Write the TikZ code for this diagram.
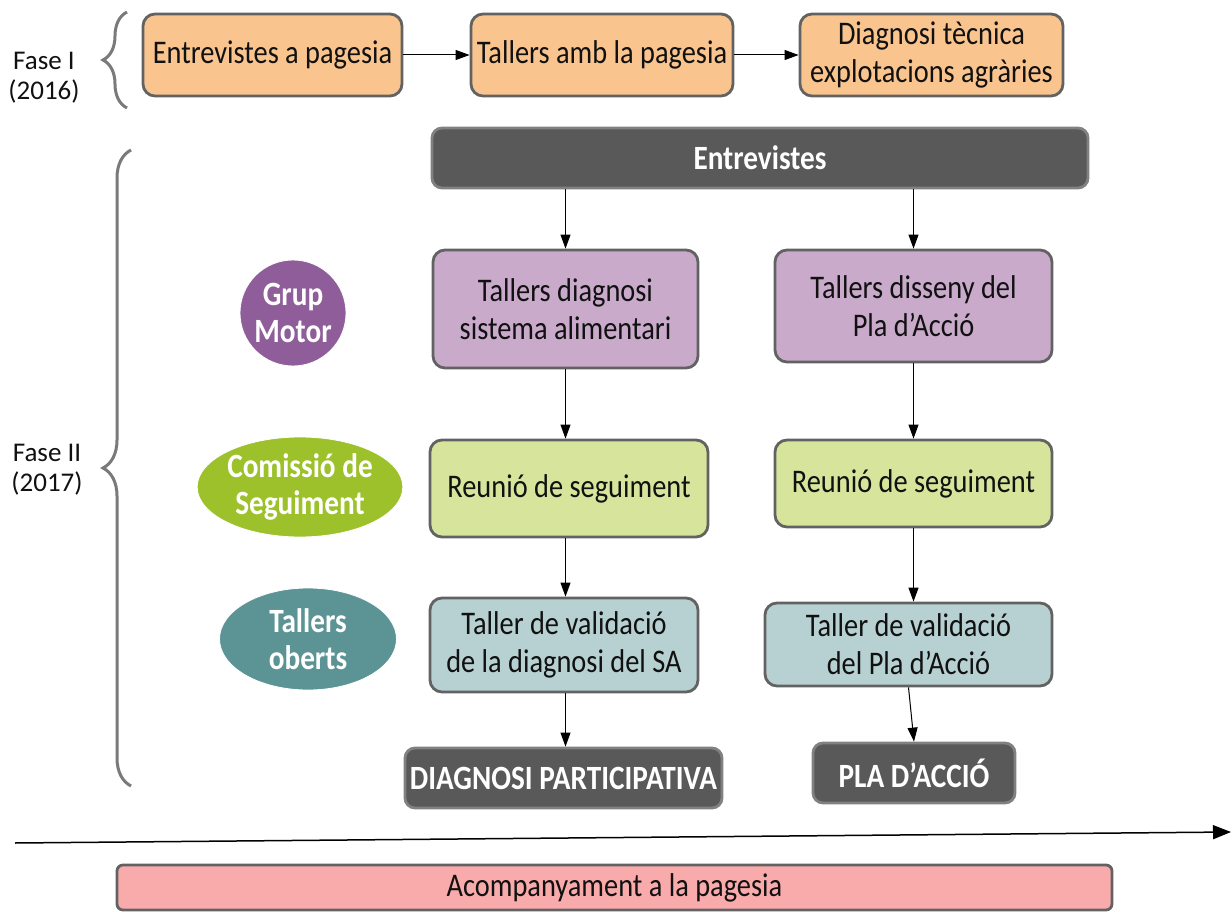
\documentclass[tikz,border=0pt]{standalone}
\usepackage{fontspec}
\setmainfont{Carlito}[FakeStretch=0.86]
\newfontfamily\lblfam{Carlito}
\usetikzlibrary{arrows.meta,decorations.pathreplacing,shapes.geometric}
\definecolor{orangeF}{HTML}{F9C48E}
\definecolor{bord}{HTML}{626262}
\definecolor{darkF}{HTML}{595959}
\definecolor{lilac}{HTML}{C9AACB}
\definecolor{lime}{HTML}{D6E59B}
\definecolor{tealL}{HTML}{B7D1D2}
\definecolor{gmC}{HTML}{8F5E9A}
\definecolor{csC}{HTML}{9DC12A}
\definecolor{toC}{HTML}{5C9496}
\definecolor{pinkF}{HTML}{F9ABAB}
\definecolor{txt}{HTML}{111111}
\definecolor{braceC}{HTML}{7A7A7A}
\newcommand\bxf{\fontsize{33}{38}\selectfont}
\newcommand\lbf{\lblfam\fontsize{27}{30}\selectfont}
\newcommand\bdf{\fontsize{34}{37}\selectfont\bfseries}
\begin{document}
\begin{tikzpicture}[x=1pt,y=-1pt,
  box/.style={draw=bord, line width=2.8pt, rounded corners=12pt, align=center, inner sep=0pt, text=txt, font=\bxf},
  obox/.style={box, fill=orangeF},
  pbox/.style={box, fill=lilac},
  gbox/.style={box, fill=lime},
  tbox/.style={box, fill=tealL},
  dbox/.style={box, fill=darkF, draw=bord!80, text=white, font=\bdf, rounded corners=10pt},
  blob/.style={ellipse, inner sep=0pt, text=white, font=\bdf, align=center, draw=white, line width=0.8pt},
  arr/.style={-{Triangle[length=14pt,width=10pt]}, line width=1pt, black},
  lbl/.style={align=center, font=\lbf, text=txt},
  brc/.style={decorate, decoration={brace, amplitude=24pt}, draw=braceC, line width=3pt}
]
\useasboundingbox (0,0) rectangle (1232,912);

% Fase I
\node[lbl] (f1) at (44,78) {Fase I\\(2016)};
\coordinate (b1a) at (127,108);
\coordinate (b1b) at (127,12);
\draw[brc] (b1a) -- (b1b);

\node[obox, minimum width=259, minimum height=82] (a1) at (272.5,55) {Entrevistes a pagesia};
\node[obox, minimum width=262, minimum height=82] (a2) at (602,55) {Tallers amb la pagesia};
\node[obox, minimum width=263, minimum height=82] (a3) at (931.5,55) {Diagnosi tècnica\\explotacions agràries};
\draw[arr] (a1) -- (a2);
\draw[arr] (a2) -- (a3);

% Fase II
\node[lbl] (f2) at (47,470) {Fase II\\(2017)};
\coordinate (b2a) at (131,786);
\coordinate (b2b) at (131,150);
\draw[brc, decoration={amplitude=28pt}] (b2a) -- (b2b);

\node[dbox, minimum width=656, minimum height=60] (ent) at (760,158) {Entrevistes};

\node[pbox, minimum width=265, minimum height=118] (dl) at (565.5,309) {Tallers diagnosi\\sistema alimentari};
\node[pbox, minimum width=277, minimum height=112] (dr) at (913.5,306) {Tallers disseny del\\Pla d’Acció};
\node[gbox, minimum width=278, minimum height=97] (gl) at (569,488.5) {Reunió de seguiment};
\node[gbox, minimum width=277, minimum height=87] (gr) at (913.5,483.5) {Reunió de seguiment};
\node[tbox, minimum width=268, minimum height=94] (tl) at (564,645) {Taller de validació\\de la diagnosi del SA};
\node[tbox, minimum width=287, minimum height=83] (tr) at (908.5,644.5) {Taller de validació\\del Pla d’Acció};
\node[dbox, minimum width=317, minimum height=60] (dp) at (563.5,778) {DIAGNOSI PARTICIPATIVA};
\node[dbox, minimum width=202, minimum height=60] (pa) at (914,773) {PLA D’ACCIÓ};

\node[blob, circle, fill=gmC, minimum size=106] (gm) at (293,313) {Grup\\Motor};
\node[blob, fill=csC, minimum width=184, minimum height=100] (cs) at (300,487) {Comissió de\\Seguiment};
\node[blob, fill=toC, minimum width=177, minimum height=102] (to) at (308,639) {Tallers\\oberts};

\draw[arr] (ent.south -| dl.north) -- (dl.north);
\draw[arr] (ent.south -| dr.north) -- (dr.north);
\draw[arr] (dl.south) -- (gl.north -| dl.south);
\draw[arr] (dr.south) -- (gr.north);
\draw[arr] (gl.south -| dl.south) -- (tl.north -| dl.south);
\draw[arr] (gr.south) -- (tr.north -| gr.south);
\draw[arr] (tl.south -| dl.south) -- (dp.north -| dl.south);
\draw[arr] (tr.south) -- (pa.north);

% timeline
\coordinate (t0) at (15,843);
\coordinate (t1) at (1231,832);
\draw[arr, line width=1.5pt, -{Triangle[length=18pt,width=14pt]}] (t0) -- (t1);

\node[box, fill=pinkF, minimum width=995, minimum height=45, rounded corners=6pt] (acc) at (614.5,887.5) {Acompanyament a la pagesia};
\end{tikzpicture}
\end{document}
